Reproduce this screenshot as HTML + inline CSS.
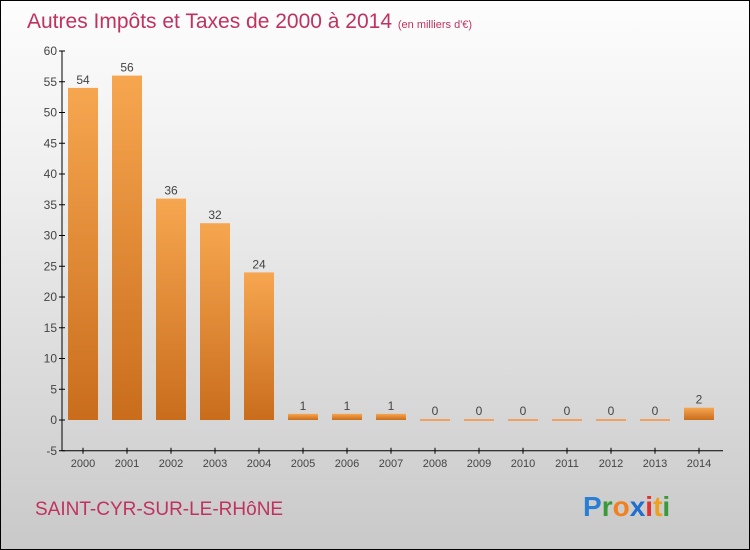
<!DOCTYPE html>
<html><head><meta charset="utf-8"><style>
body{margin:0}
#c{position:relative;width:748px;height:548px;border:1px solid #000;background:linear-gradient(#fdfdfd,#f0f0f0 30%,#c9c9c9);overflow:hidden;font-family:"Liberation Sans",sans-serif}
</style></head><body>
<div id="c">
<svg width="748" height="548" style="position:absolute;left:0;top:0" id="svg">
<defs>
<linearGradient id="bg" x1="0" y1="0" x2="0" y2="1"><stop offset="0" stop-color="#f7a650"/><stop offset="1" stop-color="#c96d1c"/></linearGradient>
</defs>
<text x="26" y="27" font-size="21" fill="#c0325f">Autres Impôts et Taxes de 2000 à 2014 <tspan font-size="11">(en milliers d'€)</tspan></text>
<text x="34" y="514" font-size="19" fill="#c0325f">SAINT-CYR-SUR-LE-RHôNE</text>
<text x="582" y="515" font-size="28" font-weight="bold"><tspan fill="#2a7fd4">P</tspan><tspan fill="#3a9a3a">r</tspan><tspan fill="#f08020">o</tspan><tspan fill="#1f6fcf">x</tspan><tspan fill="#e03030">i</tspan><tspan fill="#f0a020">t</tspan><tspan fill="#3a9a3a">i</tspan></text>
<g id="axes"></g><g id="bars"></g>
</svg>
</div>
<script>
const categories=["2000","2001","2002","2003","2004","2005","2006","2007","2008","2009","2010","2011","2012","2013","2014"];
const values=[54,56,36,32,24,1,1,1,0,0,0,0,0,0,2];
const yTicks=[-5,0,5,10,15,20,25,30,35,40,45,50,55,60];
const NS="http://www.w3.org/2000/svg";
const y=v=>419-(v*369/60);
const x=i=>82+i*44;
function mk(t,a,p){const e=document.createElementNS(NS,t);for(const k in a)e.setAttribute(k,a[k]);p.appendChild(e);return e;}
const ax=document.getElementById('axes'),bs=document.getElementById('bars');
const yl=mk('line',{x1:61,y1:y(60),x2:61,y2:y(-5),stroke:'#000','stroke-width':1},ax);


const xl=mk('line',{x1:61,y1:y(-5),x2:722,y2:y(-5),stroke:'#000','stroke-width':1},ax);


yTicks.forEach(t=>{
  mk('line',{x1:58,x2:64,y1:y(t),y2:y(t),stroke:'#000'},ax);
  const tx=mk('text',{x:56,y:y(t)+4,'text-anchor':'end','font-size':12,fill:'#444'},ax);
  tx.textContent=t;
  
  
});
categories.forEach((c,i)=>{
  mk('line',{x1:x(i),x2:x(i),y1:y(-5)-3,y2:y(-5)+3,stroke:'#000'},ax);
  const tx=mk('text',{x:x(i),y:y(-5)+16,'text-anchor':'middle','font-size':11,fill:'#444'},ax);
  tx.textContent=c;
  
  
  const v=values[i];
  let top=y(v),h=y(0)-top;
  if(h<2){top=y(0)-1;h=2;}
  const r=mk('rect',{x:x(i)-15,y:top,width:30,height:h,fill:v>0?'url(#bg)':'#f0a060'},bs);
  
  
  const lb=mk('text',{x:x(i),y:top-4,'text-anchor':'middle','font-size':12,fill:'#444'},bs);
  lb.textContent=v;
  
  
});
</script>
</body></html>
